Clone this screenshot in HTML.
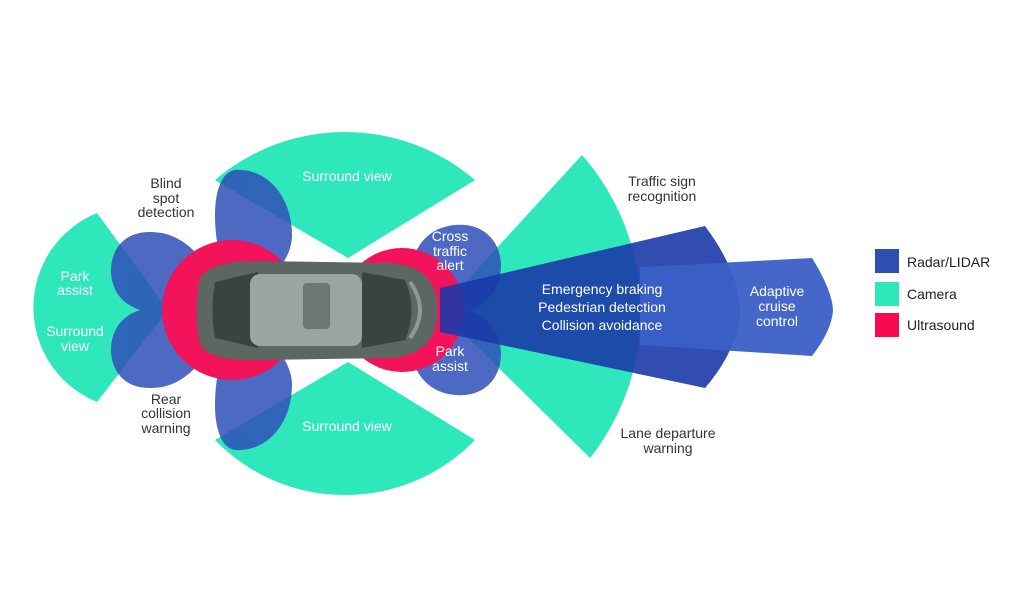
<!DOCTYPE html>
<html><head><meta charset="utf-8"><style>
html,body{margin:0;padding:0;background:#fff;}
svg{display:block;font-family:"Liberation Sans",sans-serif;}
</style></head><body>
<svg width="1024" height="614" viewBox="0 0 1024 614" xmlns="http://www.w3.org/2000/svg">
<g fill="#2ee8bb">
<path d="M348 258 L215 180 A200 200 0 0 1 475 180 Z"/>
<path d="M348 362 L215 440 A181 181 0 0 0 475 440 Z"/>
<path d="M168 310 L97 213 A102 102 0 0 0 97 402 Z"/>
<path d="M440 310 L582 155 A237 237 0 0 1 590 458 Z"/>
</g>
<g fill="#2f4fb8" opacity="0.85">
<path d="M230 300 C200 250 180 232 150 232 C115 232 108 262 112 280 C116 298 128 306 140 310 C128 314 116 322 112 340 C108 358 115 388 150 388 C180 388 200 370 230 320 Z"/>
<path d="M235 170 C270 168 292 200 292 235 C292 265 260 290 240 300 C225 280 215 250 215 215 C215 190 222 172 235 170 Z"/>
<path d="M235 450 C270 452 292 420 292 385 C292 355 260 330 240 320 C225 340 215 370 215 405 C215 430 222 448 235 450 Z"/>
<path d="M410 300 C405 260 420 228 455 225 C490 222 505 250 500 275 C497 292 485 305 470 310 C485 315 497 328 500 345 C505 370 490 398 455 395 C420 392 405 360 410 320 Z"/>
</g>
<g fill="#f2135a">
<circle cx="232" cy="310" r="70"/>
<circle cx="402" cy="310" r="62"/>
</g>
<path d="M440 288 L705 226 Q738 270 740 310 Q738 350 705 388 L440 332 Z" fill="#1b3aa8" opacity="0.9"/>
<path d="M640 267 L812 258 Q832 290 833 310 Q832 330 812 356 L640 345 Z" fill="#3a5fc6" opacity="0.95"/>
<g>
<path d="M200 278 Q193 310 200 345 Q212 362 260 360 L390 358 Q432 355 437 320 L437 300 Q432 266 390 263 L260 261 Q212 260 200 278 Z" fill="#5c6663"/>
<path d="M215 282 L258 272 L258 348 L215 338 Q210 310 215 282 Z" fill="#3b4341"/>
<rect x="250" y="274" width="112" height="72" rx="10" fill="#9aa4a1"/>
<rect x="303" y="283" width="27" height="46" rx="4" fill="#6c7674"/>
<path d="M362 272 L405 280 Q418 310 405 340 L362 348 Z" fill="#3b4341"/>
<path d="M410 282 Q430 310 410 338" stroke="#8f9895" stroke-width="4" fill="none"/>
</g>
<g fill="#fff" font-size="14" text-anchor="middle">
<text x="347" y="181">Surround view</text>
<text x="347" y="431">Surround view</text>
<text x="75" y="281">Park</text><text x="75" y="295">assist</text>
<text x="75" y="336">Surround</text><text x="75" y="351">view</text>
<text x="450" y="241">Cross</text><text x="450" y="256">traffic</text><text x="450" y="270">alert</text>
<text x="450" y="356">Park</text><text x="450" y="371">assist</text>
<text x="602" y="294">Emergency braking</text>
<text x="602" y="312">Pedestrian detection</text>
<text x="602" y="330">Collision avoidance</text>
<text x="777" y="296">Adaptive</text><text x="777" y="311">cruise</text><text x="777" y="326">control</text>
</g>
<g fill="#333" font-size="14" text-anchor="middle">
<text x="166" y="188">Blind</text><text x="166" y="203">spot</text><text x="166" y="217">detection</text>
<text x="166" y="404">Rear</text><text x="166" y="418">collision</text><text x="166" y="433">warning</text>
<text x="662" y="186">Traffic sign</text><text x="662" y="201">recognition</text>
<text x="668" y="438">Lane departure</text><text x="668" y="453">warning</text>
</g>
<rect x="875" y="249" width="24" height="24" fill="#2f4fb0"/>
<rect x="875" y="282" width="24" height="24" fill="#2ee8bb"/>
<rect x="875" y="313" width="24" height="24" fill="#f70a4f"/>
<g fill="#222" font-size="14">
<text x="907" y="267">Radar/LIDAR</text>
<text x="907" y="299">Camera</text>
<text x="907" y="330">Ultrasound</text>
</g>
</svg>
</body></html>
